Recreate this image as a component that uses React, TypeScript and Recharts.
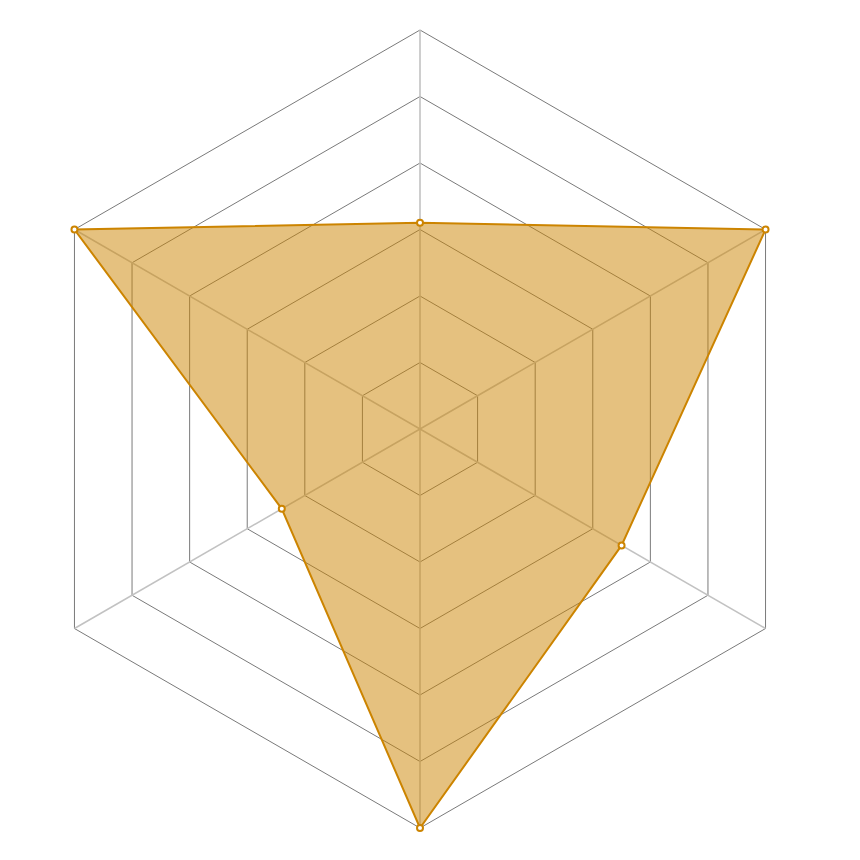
import React from "react";
import { PolarAngleAxis, PolarGrid, PolarRadiusAxis, Radar, RadarChart } from "recharts";

// six unlabeled axes, clockwise from the top
const axes = ["A", "B", "C", "D", "E", "F"];
const values = [3.1, 6, 3.5, 6, 2.4, 6];
const ringTicks = [0, 1, 2, 3, 4, 5, 6];

const COLORS = {
  ring: "#7a7a7a",
  spoke: "#c2c2c2",
  series: "#cc8400",
};

const data = axes.map((name, i) => ({ name, value: values[i] }));

export default function App() {
  return (
    <div style={{ marginLeft: -8, marginTop: -8, width: 860, height: 860, background: "#fff" }}>
      <RadarChart width={860} height={860} data={data} cx={420} cy={429} outerRadius={399}
        margin={{ top: 0, right: 0, bottom: 0, left: 0 }}>
        <PolarGrid radialLines={false} stroke={COLORS.ring} />
        <PolarGrid polarRadius={[]} stroke={COLORS.spoke} strokeWidth={1.6} />
        <PolarAngleAxis dataKey="name" tick={false} axisLine={false} tickLine={false} />
        <PolarRadiusAxis domain={[0, 6]} ticks={ringTicks} tick={false} axisLine={false} tickLine={false} />
        <Radar
          dataKey="value"
          stroke={COLORS.series}
          strokeWidth={2}
          fill={COLORS.series}
          fillOpacity={0.5}
          dot={{ r: 3, fill: "#fff", stroke: COLORS.series, strokeWidth: 2, fillOpacity: 1 }}
          isAnimationActive={false}
        />
      </RadarChart>
    </div>
  );
}
